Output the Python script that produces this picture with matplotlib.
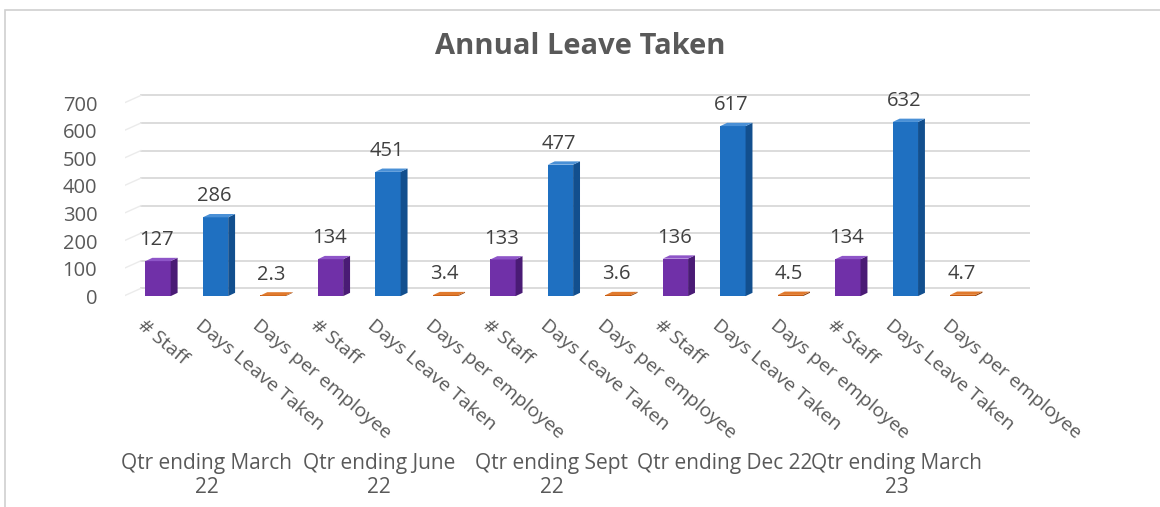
import matplotlib.pyplot as plt
from matplotlib.patches import Polygon, Rectangle
from matplotlib.transforms import blended_transform_factory, ScaledTranslation

plt.rcParams['font.family'] = ['Open Sans', 'DejaVu Sans']

quarters = ['Qtr ending March\n22', 'Qtr ending June\n22', 'Qtr ending Sept\n22',
            'Qtr ending Dec 22', 'Qtr ending March\n23']
measures = ['# Staff', 'Days Leave Taken', 'Days per employee']
staff = [127, 134, 133, 136, 134]
days_taken = [286, 451, 477, 617, 632]
days_per_employee = [2.3, 3.4, 3.6, 4.5, 4.7]

# front / side / top shades for each measure
colors = [('#7030A8', '#4A1B75', '#8E55C8'),
          ('#1F70C1', '#124F8E', '#4A90D6'),
          ('#C55A11', '#8A3D0A', '#E07A2E')]
text_color = '#595959'

fig = plt.figure(figsize=(11.6, 5.07), dpi=100)
ax = fig.add_axes([0.1078, 0.4083, 0.780, 0.424])

# chart area border
fig.patches.append(Rectangle((0.0045, -0.05), 1.05, 1.03, transform=fig.transFigure,
                             fill=False, edgecolor='#D0D0D0', linewidth=1.2))

x_pos, values, labels = [], [], []
for g in range(len(quarters)):
    for k, series in enumerate([staff, days_taken, days_per_employee]):
        x_pos.append(3 * g + k)
        values.append(series[g])
        labels.append(measures[k])

# back wall gridlines sit a little above the front face scale
wall = 28
ticks = [0, 100, 200, 300, 400, 500, 600, 700]
for t in ticks:
    ax.plot([-0.3, 15.2], [t + wall, t + wall], color='#D9D9D9', lw=1.3, zorder=0)
    ax.plot([-0.6, -0.3], [t, t + wall], color='#EBEBEB', lw=1.0, zorder=0)

w, dx, dy = 0.44, 0.12, 12
for i, (x, v) in enumerate(zip(x_pos, values)):
    front, side, top = colors[i % 3]
    x0, x1 = x - w / 2, x + w / 2
    ax.bar(x, v, width=w, color=front, zorder=3)
    ax.add_patch(Polygon([(x1, 0), (x1 + dx, dy), (x1 + dx, v + dy), (x1, v)],
                         closed=True, facecolor=side, edgecolor='none', zorder=3))
    ax.add_patch(Polygon([(x0, v), (x1, v), (x1 + dx, v + dy), (x0 + dx, v + dy)],
                         closed=True, facecolor=top, edgecolor='none', zorder=3))
    ax.annotate(f'{v:g}', (x, v), xytext=(-1, 15), textcoords='offset points',
                ha='center', va='center', fontsize=14.5, color='#404040')

ax.set_xlim(-0.574, 15.165)
ax.set_ylim(-14, 766)
ax.set_yticks(ticks)
ax.set_yticklabels([str(t) for t in ticks], fontsize=14.5, color=text_color)
ax.tick_params(axis='y', length=0, pad=20)

ax.set_xticks(x_pos)
ax.set_xticklabels(labels, rotation=-40, ha='left', rotation_mode='anchor',
                   fontsize=14, color=text_color)
ax.tick_params(axis='x', length=0, pad=12)
shift = ScaledTranslation(-12 / 100, 0, fig.dpi_scale_trans)
for lbl in ax.get_xticklabels():
    lbl.set_transform(lbl.get_transform() + shift)

for s in ax.spines.values():
    s.set_visible(False)

trans = blended_transform_factory(ax.transData, fig.transFigure)
for g, q in enumerate(quarters):
    ax.text(3 * g + 0.85, 1 - 453 / 507, q, transform=trans, ha='center', va='top',
            fontsize=15, color=text_color, linespacing=1.2)

fig.text(0.5, 1 - 47 / 507, 'Annual Leave Taken', ha='center', va='center',
         fontsize=21, fontweight='bold', color=text_color)

fig.savefig('out.png', dpi=100)
